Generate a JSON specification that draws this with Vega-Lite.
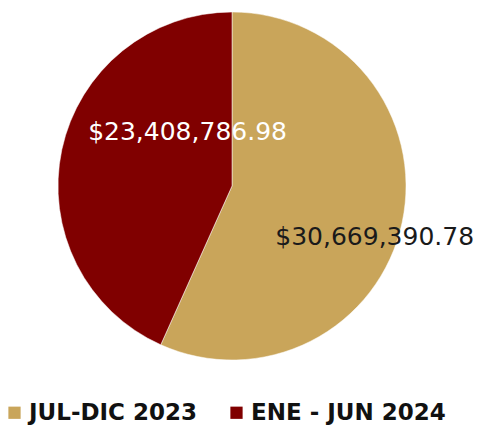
{
  "$schema": "https://vega.github.io/schema/vega-lite/v6.json",
  "width": 464,
  "height": 372,
  "padding": 0,
  "autosize": {"type": "pad"},
  "background": "white",
  "config": {"view": {"stroke": null}},
  "data": {
    "values": [
      {"periodo": "JUL-DIC 2023", "monto": 30669390.78, "orden": 1},
      {"periodo": "ENE - JUN 2024", "monto": 23408786.98, "orden": 2}
    ]
  },
  "encoding": {
    "theta": {"field": "monto", "type": "quantitative", "stack": true},
    "order": {"field": "orden", "type": "quantitative", "sort": "ascending"}
  },
  "layer": [
    {
      "mark": {"type": "arc", "outerRadius": 174, "stroke": "#ffffff", "strokeWidth": 0.5},
      "encoding": {
        "color": {
          "field": "periodo",
          "type": "nominal",
          "scale": {"domain": ["JUL-DIC 2023", "ENE - JUN 2024"], "range": ["#C9A55A", "#800000"]},
          "legend": {
            "title": null,
            "orient": "none",
            "direction": "horizontal",
            "legendX": 3,
            "legendY": 401,
            "symbolType": "square",
            "symbolSize": 150,
            "symbolStrokeWidth": 0,
            "labelFont": "DejaVu Sans",
            "labelFontWeight": "bold",
            "labelFontSize": 23,
            "labelColor": "#111111",
            "labelOffset": 3,
            "columnPadding": 28,
            "labelLimit": 400
          }
        }
      }
    },
    {
      "mark": {"type": "text", "radius": 70, "dx": 24, "dy": -39, "font": "DejaVu Sans", "fontSize": 25, "color": "#ffffff"},
      "encoding": {
        "text": {
          "condition": {"test": "datum.periodo === 'ENE - JUN 2024'", "field": "monto", "type": "quantitative", "format": "$,.2f"},
          "value": ""
        }
      }
    },
    {
      "mark": {"type": "text", "radius": 150, "dx": -4, "dy": 20, "font": "DejaVu Sans", "fontSize": 25, "color": "#1a1a1a"},
      "encoding": {
        "text": {
          "condition": {"test": "datum.periodo === 'JUL-DIC 2023'", "field": "monto", "type": "quantitative", "format": "$,.2f"},
          "value": ""
        }
      }
    }
  ]
}
